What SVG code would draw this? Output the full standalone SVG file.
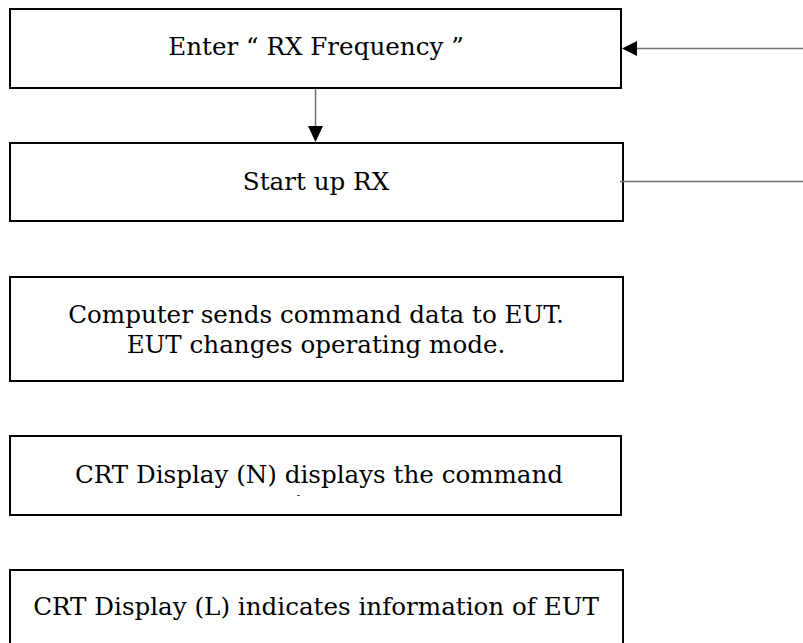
<svg xmlns="http://www.w3.org/2000/svg" width="803" height="643" viewBox="0 0 803 643">
<style>
.box{fill:#fff;stroke:#000;stroke-width:2}
.lbl{font-family:"DejaVu Serif","Liberation Serif",serif;font-size:24.6px;fill:#000;text-anchor:middle}
.con{stroke:#707070;stroke-width:1.5;fill:none}
.head{fill:#000;stroke:none}
</style>
<rect width="803" height="643" fill="#fff"/>
<g id="n1"><rect class="box" x="10" y="9" width="611" height="79"/><text class="lbl" x="316" y="55">Enter “ RX Frequency ”</text></g>
<g id="n2"><rect class="box" x="10" y="143" width="613" height="78"/><text class="lbl" x="316" y="190">Start up RX</text></g>
<g id="n3"><rect class="box" x="10" y="277" width="613" height="104"/><text class="lbl" x="316" y="323">Computer sends command data to EUT.</text><text class="lbl" x="316" y="353">EUT changes operating mode.</text></g>
<g id="n4"><rect class="box" x="10" y="436" width="611" height="79"/><text class="lbl" x="319" y="483">CRT Display (N) displays the command</text><line x1="297" y1="495.5" x2="300" y2="495.5" stroke="#555" stroke-width="1"/></g>
<g id="n5"><rect class="box" x="10" y="570" width="613" height="100"/><text class="lbl" x="316" y="615">CRT Display (L) indicates information of EUT</text></g>
<g id="connectors">
<line class="con" x1="315.5" y1="89" x2="315.5" y2="126"/>
<polygon class="head" points="308,126 323,126 315.5,142"/>
<line class="con" x1="637" y1="48.5" x2="803" y2="48.5"/>
<polygon class="head" points="622,48.5 637,41 637,56"/>
<line class="con" x1="620" y1="181.5" x2="803" y2="181.5"/>
</g>
</svg>
